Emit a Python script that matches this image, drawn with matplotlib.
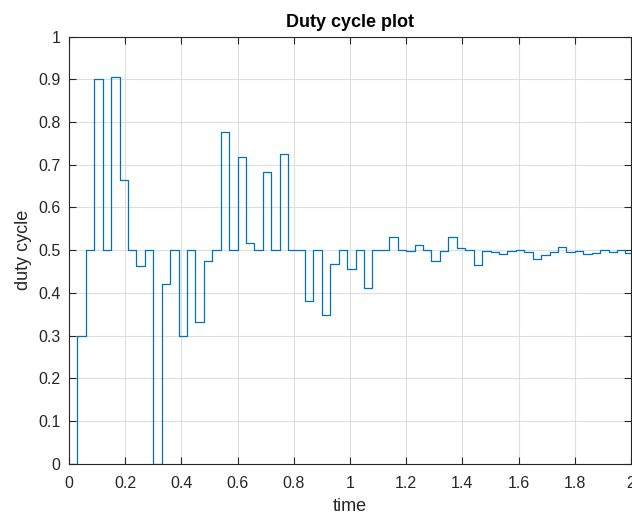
import matplotlib
matplotlib.use("Agg")
import matplotlib.pyplot as plt
import numpy as np

plt.rcParams['font.family'] = ['Liberation Sans', 'DejaVu Sans']

# sample time of the duty cycle controller
Ts = 0.03
duty = [0.0, 0.30, 0.5, 0.9, 0.5, 0.906, 0.665, 0.5, 0.462, 0.5,
        0.0, 0.421, 0.5, 0.30, 0.5, 0.331, 0.475, 0.5, 0.777, 0.5,
        0.719, 0.516, 0.5, 0.684, 0.5, 0.725, 0.501, 0.5, 0.381, 0.5,
        0.348, 0.468, 0.5, 0.457, 0.5, 0.411, 0.5, 0.5, 0.530, 0.5,
        0.497, 0.512, 0.5, 0.475, 0.497, 0.531, 0.506, 0.5, 0.465, 0.497,
        0.495, 0.491, 0.497, 0.5, 0.495, 0.480, 0.489, 0.495, 0.507, 0.495,
        0.498, 0.490, 0.494, 0.4995, 0.496, 0.501, 0.494]

xticks = [0, 0.2, 0.4, 0.6, 0.8, 1, 1.2, 1.4, 1.6, 1.8, 2]
xlabels = ['0', '0.2', '0.4', '0.6', '0.8', '1', '1.2', '1.4', '1.6', '1.8', '2']
yticks = [0, 0.1, 0.2, 0.3, 0.4, 0.5, 0.6, 0.7, 0.8, 0.9, 1]
ylabels = ['0', '0.1', '0.2', '0.3', '0.4', '0.5', '0.6', '0.7', '0.8', '0.9', '1']

t = np.arange(len(duty) + 1) * Ts
d = duty + [duty[-1]]

fig = plt.figure(figsize=(6.32, 5.18), dpi=100)
ax = fig.add_axes([69 / 632, 54.3 / 518, 562 / 632, 427.1 / 518])

ax.step(t, d, where='post', color='#0072BD', linewidth=0.9)

ax.set_xlim(0, 2)
ax.set_ylim(0, 1)
ax.set_xticks(xticks)
ax.set_xticklabels(xlabels)
ax.set_yticks(yticks)
ax.set_yticklabels(ylabels)

ax.grid(True, color='#dedede', linewidth=0.8)
ax.set_axisbelow(True)
for s in ax.spines.values():
    s.set_color('#262626')
    s.set_linewidth(0.8)
ax.tick_params(direction='in', length=5, width=0.8, color='#262626',
               labelcolor='#262626', labelsize=11.5, top=True, right=True)
ax.tick_params(axis='x', pad=9)
ax.tick_params(axis='y', pad=6)

ax.set_title('Duty cycle plot', fontsize=13, fontweight='bold', color='black', pad=6.7)
ax.set_xlabel('time', fontsize=13, color='#262626', labelpad=5)
ax.set_ylabel('duty cycle', fontsize=13, color='#262626', labelpad=4.5)

fig.savefig('out.png', dpi=100)
